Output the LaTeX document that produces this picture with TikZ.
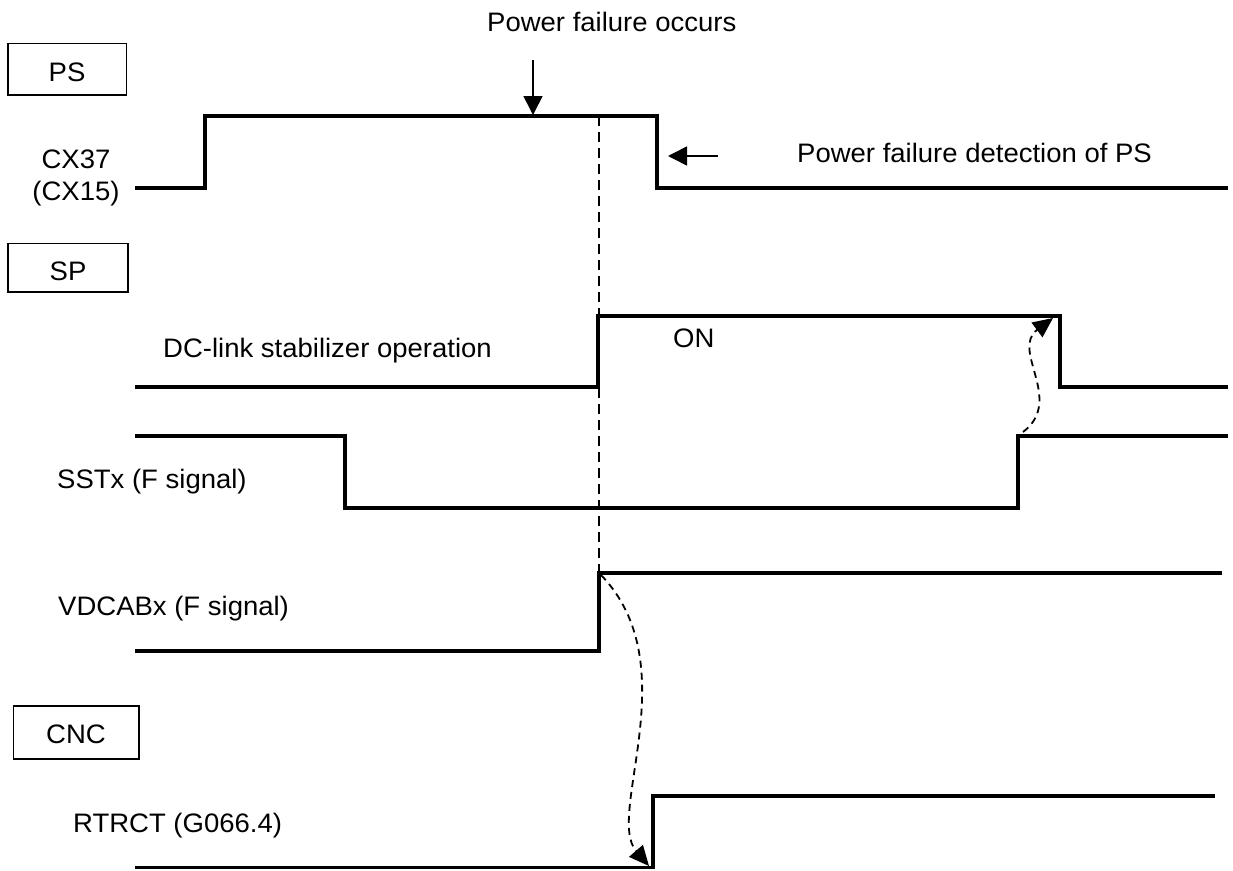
\documentclass[tikz,border=0pt]{standalone}
\usepackage{fontspec}
\setmainfont{Liberation Sans}[FakeStretch=1.03]
\usetikzlibrary{arrows.meta}
\begin{document}
\begin{tikzpicture}[x=1pt,y=-1pt,
  sig/.style={line width=3.6pt, line join=miter},
  txt/.style={font=\fontsize{26.7}{31}\selectfont, inner sep=0pt, anchor=base west},
  ctxt/.style={font=\fontsize{26.7}{31}\selectfont, inner sep=0pt, anchor=base},
  unitbox/.style={draw, line width=1.5pt, inner sep=0pt},
  vline/.style={line width=2pt, dash pattern=on 10pt off 6pt},
  causal/.style={line width=1.8pt, dash pattern=on 7pt off 5pt, -{Triangle[length=20pt,width=18pt]}},
  marker/.style={line width=1.6pt, -{Triangle[length=19pt,width=19pt]}}]
\useasboundingbox (0,0) rectangle (1233,870);

% unit boxes
\draw[unitbox] (8,43.5) rectangle (126.5,95) node[pos=0.5] (psbox) {};
\node[ctxt] (ps) at (67,81) {PS};
\draw[unitbox] (8,243.5) rectangle (128,292) node[pos=0.5] (spbox) {};
\node[ctxt] (sp) at (68,280) {SP};
\draw[unitbox] (13.5,706) rectangle (139,759) node[pos=0.5] (cncbox) {};
\node[ctxt] (cnc) at (76,743) {CNC};

% labels
\node[ctxt] (cx37) at (76,168) {CX37};
\node[ctxt] (cx15) at (76,200) {(CX15)};
\node[txt] (pfo) at (487,31.7) {Power failure occurs};
\node[txt] (pfd) at (797,162) {Power failure detection of PS};
\node[txt] (dcl) at (163,357) {DC-link stabilizer operation};
\node[txt] (on) at (673,347) {ON};
\node[txt] (sstx) at (57,488) {SSTx (F signal)};
\node[txt] (vdc) at (58,615) {VDCABx (F signal)};
\node[txt] (rtr) at (73,832) {RTRCT (G066.4)};

% CX37 signal
\coordinate (a0) at (135,188);
\coordinate (a1) at (205,188);
\coordinate (a2) at (205,116);
\coordinate (a3) at (657,116);
\coordinate (a4) at (657,188);
\coordinate (a5) at (1228,188);
\draw[sig] (a0) -- (a1) -- (a2) -- (a3) -- (a4) -- (a5);

% DC-link stabilizer signal
\coordinate (b0) at (135,387);
\coordinate (b1) at (598,387);
\coordinate (b2) at (598,316);
\coordinate (b3) at (1060,316);
\coordinate (b4) at (1060,387);
\coordinate (b5) at (1228,387);
\draw[sig] (b0) -- (b1) -- (b2) -- (b3) -- (b4) -- (b5);

% SSTx signal
\coordinate (c0) at (135,436);
\coordinate (c1) at (345,436);
\coordinate (c2) at (345,508);
\coordinate (c3) at (1018,508);
\coordinate (c4) at (1018,436);
\coordinate (c5) at (1228,436);
\draw[sig] (c0) -- (c1) -- (c2) -- (c3) -- (c4) -- (c5);

% VDCABx signal
\coordinate (d0) at (135,651);
\coordinate (d1) at (599,651);
\coordinate (d2) at (599,573);
\coordinate (d3) at (1222,573);
\draw[sig] (d0) -- (d1) -- (d2) -- (d3);

% RTRCT signal
\coordinate (e0) at (135,867.5);
\coordinate (e1) at (653,867.5);
\coordinate (e2) at (653,796);
\coordinate (e3) at (1215,796);
\draw[sig] (e0) -- (e1) -- (e2) -- (e3);

% power failure instant
\coordinate (pft) at (599,116);
\draw[vline] (pft) -- (d2);

% markers
\coordinate (m1s) at (533,60);
\coordinate (m1e) at (533,115);
\draw[marker] (m1s) -- (m1e);
\coordinate (m2s) at (718,156);
\coordinate (m2e) at (668,156);
\draw[marker] (m2s) -- (m2e);

% causal arrows
\coordinate (k1s) at (1023,432);
\coordinate (k1e) at (1053,318);
\draw[causal] (k1s) .. controls (1065,400) and (1010,350) .. (k1e);
\coordinate (k2s) at (601,575);
\coordinate (k2e) at (649,866);
\draw[causal] (k2s) .. controls (688,665) and (605,815) .. (k2e);
\end{tikzpicture}
\end{document}
